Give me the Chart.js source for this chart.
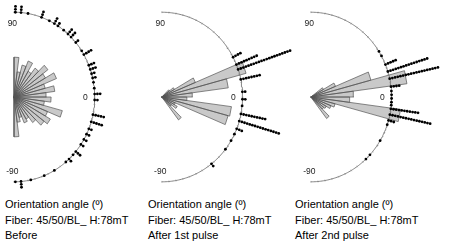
<!DOCTYPE html>
<html>
<head>
<meta charset="utf-8">
<script src="https://cdn.jsdelivr.net/npm/chart.js@4.4.1/dist/chart.umd.min.js"></script>
<style>
body { margin: 0; background: #fff; }
#wrap { position: relative; width: 450px; height: 244px; overflow: hidden; }
.plot { position: absolute; top: 0; width: 150px; height: 195px; }
.cap { position: absolute; top: 197px; font: 11px "Liberation Sans", Arial, sans-serif; line-height: 15.5px; color: #000; white-space: nowrap; }
</style>
</head>
<body>
<div id="wrap">
  <div class="plot" style="left:0px"><canvas id="c0"></canvas></div>
  <div class="plot" style="left:150px"><canvas id="c1"></canvas></div>
  <div class="plot" style="left:300px"><canvas id="c2"></canvas></div>
  <div class="cap" style="left:5px">Orientation angle (º)<br>Fiber: 45/50/BL_ H:78mT<br>Before</div>
  <div class="cap" style="left:148px">Orientation angle (º)<br>Fiber: 45/50/BL_ H:78mT<br>After 1st pulse</div>
  <div class="cap" style="left:295px">Orientation angle (º)<br>Fiber: 45/50/BL_ H:78mT<br>After 2nd pulse</div>
</div>
<script>
// bins (degrees) shared by the three rose diagrams
var binAngles = [-86.25, -78.75, -71.25, -63.75, -56.25, -48.75, -41.25, -33.75, -26.25, -18.75, -11.25, -3.75,
                 3.75, 11.25, 18.75, 26.25, 33.75, 41.25, 48.75, 56.25, 63.75, 71.25, 78.75, 86.25];

// petal lengths (circle radius = 1)
var petalsBefore = [0.47, 0.30, 0.25, 0.33, 0.30, 0.38, 0.47, 0.52, 0.45, 0.62, 0.38, 0.46,
                    0.40, 0.51, 0.40, 0.57, 0.45, 0.53, 0.43, 0.35, 0.46, 0.39, 0.30, 0.47];
var petals1st = [0, 0, 0, 0, 0, 0.34, 0.15, 0.22, 0.18, 0.85, 0.87, 0.31,
                 0.38, 0.83, 1.08, 0.45, 0.18, 0.12, 0, 0, 0, 0, 0, 0];
var petals2nd = [0, 0, 0, 0, 0, 0.32, 0.20, 0.22, 0.27, 0.31, 1.12, 0.48,
                 0.53, 1.20, 0.77, 0.33, 0.18, 0, 0, 0, 0, 0, 0, 0];

// stacked raw observations: angle of each stack and number of points
var dotAnglesBefore = [89, 85, 80, 70, 64, 60, 57, 52, 48, 45, 40, 33, 30, 22, 19, 16, 13, 10, 6, 2,
                       -2, -12, -17, -22, -26, -30, -34, -40, -43, -47, -50, -60, -68, -78, -85, -89];
var dotCountsBefore = [3, 3, 1, 3, 1, 3, 2, 1, 3, 3, 2, 1, 4, 3, 3, 2, 2, 1, 1, 3,
                       2, 5, 5, 2, 2, 2, 2, 3, 1, 2, 1, 1, 1, 1, 3, 1];
var dotAngles1st = [28, 22.5, 19, 12, 3.5, -1.5, -6, -11.5, -16.5, -22, -26, -31, -38, -52];
var dotCounts1st = [4, 9, 21, 8, 2, 2, 1, 10, 16, 3, 1, 1, 1, 2];
var dotAngles2nd = [32.5, 29, 22.5, 17.5, 12.5, 7, 4, 1.5, -1, -3.5, -5.5, -8, -12, -16, -19, -31, -43, -47];
var dotCounts2nd = [1, 1, 5, 16, 19, 4, 1, 1, 1, 1, 1, 11, 16, 3, 1, 1, 1, 1];

var angleLabels = ["90", "0", "-90"];

var binWidth = 7.5;
var dotStep = 0.034;

function rad(d) { return d * Math.PI / 180; }
function pt(r, a) { return { x: r * Math.cos(rad(a)), y: r * Math.sin(rad(a)) }; }

function petalShape(lengths) {
  var pts = [{ x: 0, y: 0 }];
  for (var i = 0; i < binAngles.length; i++) {
    if (!lengths[i]) continue;
    pts.push(pt(lengths[i], binAngles[i] - binWidth / 2));
    pts.push(pt(lengths[i], binAngles[i] + binWidth / 2));
    pts.push({ x: 0, y: 0 });
  }
  return pts;
}

function stackedDots(angles, counts) {
  var pts = [];
  for (var i = 0; i < angles.length; i++) {
    for (var k = 0; k < counts[i]; k++) pts.push(pt(1 + k * dotStep, angles[i]));
  }
  return pts;
}

var arc = [];
for (var a = -90; a <= 90; a++) arc.push(pt(1, a));
var tickPts = [], tickRot = [];
for (var t = -90; t <= 90; t += 5) { tickPts.push(pt(1, t)); tickRot.push(-t); }

var angleLabelPlugin = {
  id: 'angleLabels',
  afterDatasetsDraw: function (chart) {
    var ctx = chart.ctx, x = chart.scales.x, y = chart.scales.y;
    ctx.save();
    ctx.font = '8.5px "Liberation Sans", Arial, sans-serif';
    ctx.fillStyle = '#222';
    ctx.textAlign = 'center';
    ctx.textBaseline = 'middle';
    ctx.fillText(angleLabels[0], x.getPixelForValue(-0.02), y.getPixelForValue(0.87));
    ctx.fillText(angleLabels[1], x.getPixelForValue(0.885), y.getPixelForValue(-0.01));
    ctx.fillText(angleLabels[2], x.getPixelForValue(-0.02), y.getPixelForValue(-0.875));
    ctx.restore();
  }
};

function makeChart(id, petals, dotAngles, dotCounts, cx) {
  new Chart(document.getElementById(id), {
    type: 'scatter',
    data: {
      datasets: [
        { data: petalShape(petals), showLine: true, fill: 'shape', backgroundColor: '#c9c9c9',
          borderColor: '#555', borderWidth: 0.7, pointRadius: 0, tension: 0, order: 3 },
        { data: arc, showLine: true, borderColor: '#666', borderWidth: 0.8, pointRadius: 0, order: 2 },
        { data: tickPts, pointStyle: 'line', pointRadius: 0.9, borderColor: '#888', borderWidth: 0.6,
          rotation: tickRot, order: 1 },
        { data: stackedDots(dotAngles, dotCounts), pointRadius: 1.4, backgroundColor: '#000',
          borderWidth: 0, order: 0 }
      ]
    },
    options: {
      animation: false,
      responsive: true,
      maintainAspectRatio: false,
      layout: { padding: 0 },
      plugins: { legend: { display: false }, tooltip: { enabled: false } },
      scales: {
        x: { display: false, min: -cx / 86, max: (150 - cx) / 86 },
        y: { display: false, min: -(195 - 97) / 89, max: 97 / 89 }
      }
    },
    plugins: [angleLabelPlugin]
  });
}

makeChart('c0', petalsBefore, dotAnglesBefore, dotCountsBefore, 10);
makeChart('c1', petals1st, dotAngles1st, dotCounts1st, 7.7);
makeChart('c2', petals2nd, dotAngles2nd, dotCounts2nd, 6.7);
</script>
</body>
</html>
